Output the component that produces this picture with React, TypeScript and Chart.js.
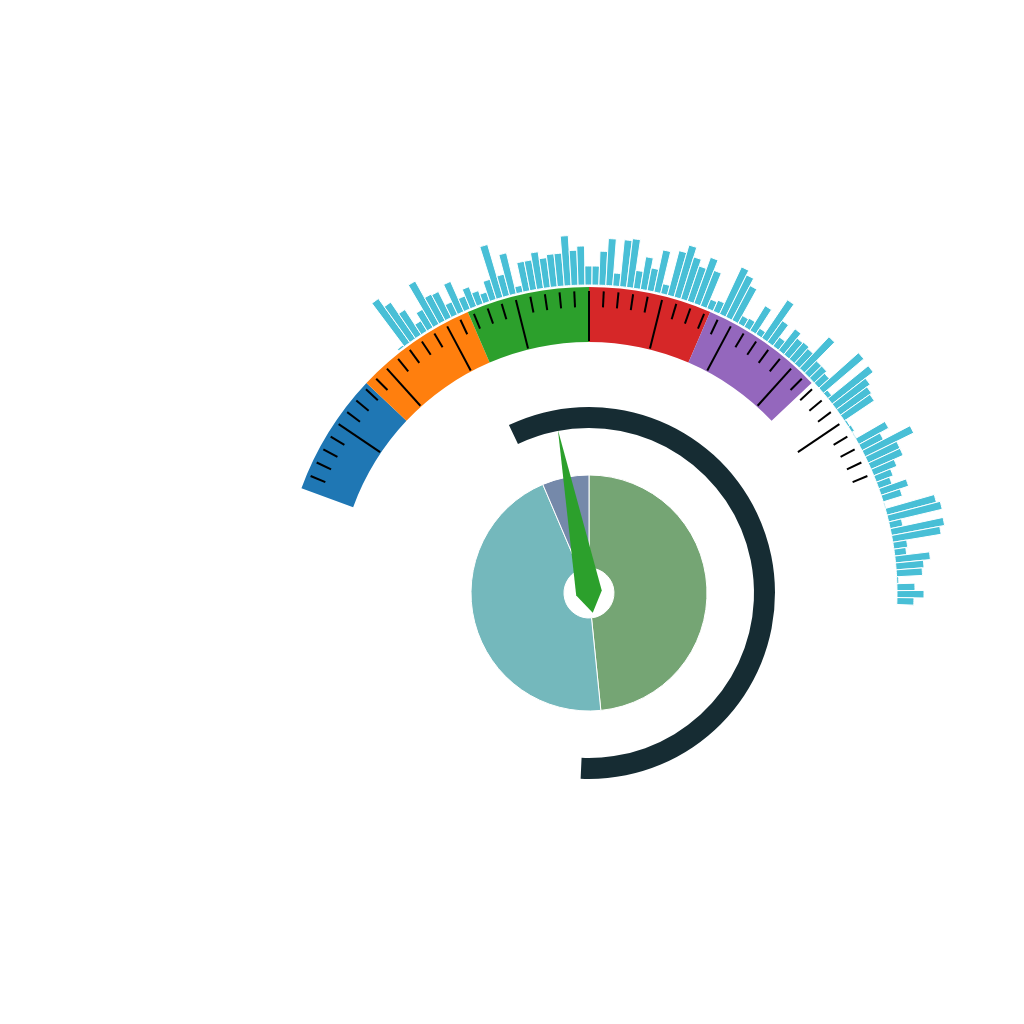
import React, { useEffect, useRef } from 'react';
import { Chart, registerables } from 'chart.js';

Chart.register(...registerables);

// ---------------- data ----------------
const pieLabels = ['Series A', 'Series B', 'Series C'];
const pieValues = [48.4, 45.2, 6.4];

const gaugeSegmentLabels = ['Band 1', 'Band 2', 'Band 3', 'Band 4', 'Band 5', 'Band 6'];
const gaugeSegmentValues = [16.67, 16.67, 16.66, 16.67, 16.67, 16.66];
const gaugeMin = 0;
const gaugeMax = 100;
const needleValue = 42.3;

const progressValue = 57.8; // percent of a full turn

const barValues = [
  2, 54, 44, 30, 12, 21, 49, 30, 29, 14,
  33, 14, 21, 14, 10, 21, 55, 22, 42, 7,
  30, 30, 37, 30, 33, 33, 50, 35, 39, 19,
  19, 34, 47, 13, 47, 49, 18, 33, 23, 43,
  10, 46, 54, 44, 37, 49, 38, 10, 12, 52,
  47, 39, 9, 10, 29, 7, 46, 26, 11, 27,
  21, 22, 20, 43, 17, 17, 14, 53, 5, 52,
  42, 38, 36, 2, 3, 1, 34, 24, 54, 35,
  35, 25, 18, 14, 29, 20, 1, 51, 55, 13,
  54, 49, 14, 12, 35, 28, 26, 2, 18, 27,
  17,
];
const barLabels = barValues.map((_, i) => `Bar ${i + 1}`);

// ---------------- styles / layout ----------------
const SIZE = 1024;
const PADDING = { left: 154, top: 162, right: 0, bottom: 0 }; // centre at (589, 593)

const PIE_COLORS = ['#75a574', '#74b8bc', '#7589aa'];
const PIE_RADIUS = 118;
const PIE_HOLE = 25;

const GAUGE_COLORS = ['#1f77b4', '#ff7f0e', '#2ca02c', '#d62728', '#9467bd', 'rgba(0,0,0,0)'];
const GAUGE_START = -70; // degrees, clockwise from top
const GAUGE_SWEEP = 140;
const GAUGE_OUTER = 306;
const GAUGE_INNER = 251;
const SPLITS = 10;
const SUB_TICKS = 5;

const PROGRESS_COLOR = '#162c33';
const PROGRESS_START = -25.5;
const PROGRESS_OUTER = 186;
const PROGRESS_INNER = 165;

const BAR_COLOR = '#48bfd6';
const BAR_START = -38.15;
const BAR_ANGLE = 1.29;
const BAR_BASE = 308;
const BAR_SCALE_MAX = 123;

const NEEDLE_COLOR = '#2ca02c';
const NEEDLE_LEN = 166;
const NEEDLE_HALF_W = 13;
const NEEDLE_TAIL = 20;

const TRANSPARENT = 'rgba(0,0,0,0)';

// ---------------- plugins ----------------
const radialBarBase = {
  id: 'radialBarBase',
  afterDatasetUpdate(chart: any, args: any) {
    const scale = chart.scales.r;
    const inner = scale.getDistanceFromCenterForValue(0);
    args.meta.data.forEach((el: any) => {
      el.innerRadius = inner;
    });
  },
};

const gaugeTicks = {
  id: 'gaugeTicks',
  afterDatasetsDraw(chart: any) {
    const meta = chart.getDatasetMeta(0);
    const first = meta.data[0];
    const last = meta.data[gaugeSegmentValues.length - 1];
    if (!first || !last) return;
    const cx = first.x;
    const cy = first.y;
    const a0 = first.startAngle;
    const a1 = last.endAngle;
    const outer = first.outerRadius;
    const inner = first.innerRadius;
    const ctx = chart.ctx;
    ctx.save();
    ctx.strokeStyle = '#000';
    ctx.lineWidth = 2;
    const n = SPLITS * SUB_TICKS;
    for (let i = 1; i < n; i++) {
      const a = a0 + ((a1 - a0) * i) / n;
      const major = i % SUB_TICKS === 0;
      const r0 = major ? inner + 1 : outer - 20;
      const r1 = outer - 4;
      ctx.beginPath();
      ctx.moveTo(cx + r0 * Math.cos(a), cy + r0 * Math.sin(a));
      ctx.lineTo(cx + r1 * Math.cos(a), cy + r1 * Math.sin(a));
      ctx.stroke();
    }
    ctx.restore();
  },
};

const needlePlugin = {
  id: 'needle',
  afterDatasetsDraw(chart: any) {
    const arc = chart.getDatasetMeta(0).data[0];
    if (!arc) return;
    const cx = arc.x;
    const cy = arc.y;
    const frac = (needleValue - gaugeMin) / (gaugeMax - gaugeMin);
    const deg = GAUGE_START + frac * GAUGE_SWEEP;
    const a = ((deg - 90) * Math.PI) / 180;
    const ux = Math.cos(a);
    const uy = Math.sin(a);
    const px = -uy;
    const py = ux;
    const ctx = chart.ctx;
    ctx.save();
    ctx.fillStyle = NEEDLE_COLOR;
    ctx.beginPath();
    ctx.moveTo(cx + ux * NEEDLE_LEN, cy + uy * NEEDLE_LEN);
    ctx.lineTo(cx + px * NEEDLE_HALF_W, cy + py * NEEDLE_HALF_W);
    ctx.lineTo(cx - ux * NEEDLE_TAIL, cy - uy * NEEDLE_TAIL);
    ctx.lineTo(cx - px * NEEDLE_HALF_W, cy - py * NEEDLE_HALF_W);
    ctx.closePath();
    ctx.fill();
    ctx.restore();
  },
};

const common = {
  responsive: false,
  maintainAspectRatio: false,
  animation: false as const,
  events: [] as any[],
  layout: { padding: PADDING },
  plugins: { legend: { display: false }, tooltip: { enabled: false } },
};

export default function App() {
  const barsRef = useRef<HTMLCanvasElement>(null);
  const gaugeRef = useRef<HTMLCanvasElement>(null);
  const progressRef = useRef<HTMLCanvasElement>(null);
  const pieRef = useRef<HTMLCanvasElement>(null);

  useEffect(() => {
    const charts: Chart[] = [];

    charts.push(
      new Chart(barsRef.current as HTMLCanvasElement, {
        type: 'polarArea',
        data: {
          labels: barLabels,
          datasets: [
            {
              data: barValues,
              backgroundColor: BAR_COLOR,
              borderColor: '#ffffff',
              borderWidth: 1,
              angle: BAR_ANGLE,
            } as any,
          ],
        },
        options: {
          ...common,
          scales: {
            r: {
              display: false,
              min: -BAR_BASE,
              max: BAR_SCALE_MAX,
              startAngle: BAR_START,
            },
          },
        } as any,
        plugins: [radialBarBase as any],
      })
    );

    const gaugeRest =
      ((gaugeMax - gaugeMin) * (360 - GAUGE_SWEEP)) / GAUGE_SWEEP;
    charts.push(
      new Chart(gaugeRef.current as HTMLCanvasElement, {
        type: 'doughnut',
        data: {
          labels: [...gaugeSegmentLabels, ''],
          datasets: [
            {
              data: [...gaugeSegmentValues, gaugeRest],
              backgroundColor: [...GAUGE_COLORS, TRANSPARENT],
              borderWidth: 0,
            },
          ],
        },
        options: {
          ...common,
          radius: GAUGE_OUTER,
          cutout: `${(GAUGE_INNER / GAUGE_OUTER) * 100}%`,
          rotation: GAUGE_START,
        } as any,
        plugins: [gaugeTicks as any],
      })
    );

    charts.push(
      new Chart(progressRef.current as HTMLCanvasElement, {
        type: 'doughnut',
        data: {
          labels: ['Progress', ''],
          datasets: [
            {
              data: [progressValue, 100 - progressValue],
              backgroundColor: [PROGRESS_COLOR, TRANSPARENT],
              borderWidth: 0,
            },
          ],
        },
        options: {
          ...common,
          radius: PROGRESS_OUTER,
          cutout: `${(PROGRESS_INNER / PROGRESS_OUTER) * 100}%`,
          rotation: PROGRESS_START,
        } as any,
      })
    );

    charts.push(
      new Chart(pieRef.current as HTMLCanvasElement, {
        type: 'doughnut',
        data: {
          labels: pieLabels,
          datasets: [
            {
              data: pieValues,
              backgroundColor: PIE_COLORS,
              borderColor: '#ffffff',
              borderWidth: 1,
            },
          ],
        },
        options: {
          ...common,
          radius: PIE_RADIUS,
          cutout: `${(PIE_HOLE / PIE_RADIUS) * 100}%`,
          rotation: 0,
        } as any,
        plugins: [needlePlugin as any],
      })
    );

    return () => charts.forEach((c) => c.destroy());
  }, []);

  const canvasStyle: React.CSSProperties = { position: 'absolute', left: 0, top: 0 };
  return (
    <div
      style={{
        position: 'fixed',
        left: 0,
        top: 0,
        width: SIZE,
        height: SIZE,
        background: '#ffffff',
      }}
    >
      <canvas ref={barsRef} width={SIZE} height={SIZE} style={canvasStyle} />
      <canvas ref={gaugeRef} width={SIZE} height={SIZE} style={canvasStyle} />
      <canvas ref={progressRef} width={SIZE} height={SIZE} style={canvasStyle} />
      <canvas ref={pieRef} width={SIZE} height={SIZE} style={canvasStyle} />
    </div>
  );
}
